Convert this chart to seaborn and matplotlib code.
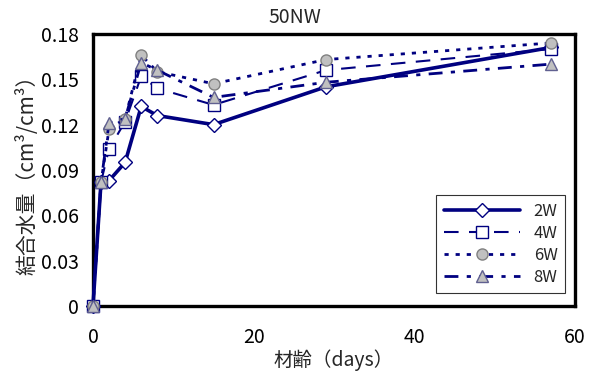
import matplotlib
matplotlib.use("Agg")
import matplotlib.pyplot as plt
import seaborn as sns
import pandas as pd

days = [0, 1, 2, 4, 6, 8, 15, 29, 57]
w2 = [0, 0.082, 0.083, 0.095, 0.132, 0.126, 0.120, 0.145, 0.171]
w4 = [0, 0.082, 0.104, 0.122, 0.152, 0.144, 0.133, 0.156, 0.170]
w6 = [0, 0.082, 0.117, 0.124, 0.166, 0.155, 0.147, 0.163, 0.174]
w8 = [0, 0.082, 0.121, 0.124, 0.161, 0.156, 0.138, 0.148, 0.160]
labels = ["2W", "4W", "6W", "8W"]
yticks = [0, 0.03, 0.06, 0.09, 0.12, 0.15, 0.18]
ytick_labels = ["0", "0.03", "0.06", "0.09", "0.12", "0.15", "0.18"]
xticks = [0, 20, 40, 60]

sns.set_theme(style="white")
plt.rcParams['font.family'] = ['Noto Sans CJK JP', 'DejaVu Sans']

navy = "#000080"
gray = "#c0c0c0"

fig = plt.figure(figsize=(5.96, 3.72), dpi=100)
ax = fig.add_axes([0.156, 0.177, 0.809, 0.732])

styles = [
    dict(linestyle='-', linewidth=2.6, marker='D', markersize=7,
         markerfacecolor='white', markeredgecolor=navy, markeredgewidth=1.0),
    dict(linestyle=(0, (7, 5)), linewidth=1.5, marker='s', markersize=8,
         markerfacecolor='white', markeredgecolor=navy, markeredgewidth=1.0),
    dict(linestyle=(0, (1.5, 2.5)), linewidth=2.0, marker='o', markersize=8,
         markerfacecolor=gray, markeredgecolor='#808080', markeredgewidth=1.0),
    dict(linestyle=(0, (5, 3, 1.5, 3)), linewidth=2.0, marker='^', markersize=9,
         markerfacecolor=gray, markeredgecolor='#606090', markeredgewidth=1.0),
]

for vals, lab, st in zip([w2, w4, w6, w8], labels, styles):
    df = pd.DataFrame({"days": days, "v": vals})
    sns.lineplot(data=df, x="days", y="v", ax=ax, color=navy, label=lab,
                 clip_on=False, zorder=3, **st)

ax.set_xlim(0, 60)
ax.set_ylim(0, 0.18)
ax.set_xticks(xticks)
ax.set_yticks(yticks)
ax.set_yticklabels(ytick_labels)
ax.tick_params(direction='in', length=5, width=1, labelsize=14, colors='black')
ax.tick_params(axis='y', pad=10)
ax.tick_params(axis='x', pad=15)
for sp in ax.spines.values():
    sp.set_linewidth(2.4)
    sp.set_color('black')
    sp.set_visible(True)

fig.text(0.495, 0.954, "50NW", fontsize=14, ha='center', va='center')
ax.set_xlabel("材齢（days）", fontsize=14, labelpad=1)
ax.set_ylabel("結合水量（cm³/cm³）", fontsize=15, labelpad=2)

leg = ax.legend(loc='lower right', bbox_to_anchor=(0.979, 0.048), fontsize=12,
                handlelength=4.6, frameon=True, fancybox=False, shadow=False,
                borderpad=0.45, labelspacing=0.3, borderaxespad=0)
leg.get_frame().set_edgecolor('black')
leg.get_frame().set_linewidth(0.8)

fig.savefig("out.png", dpi=100)
